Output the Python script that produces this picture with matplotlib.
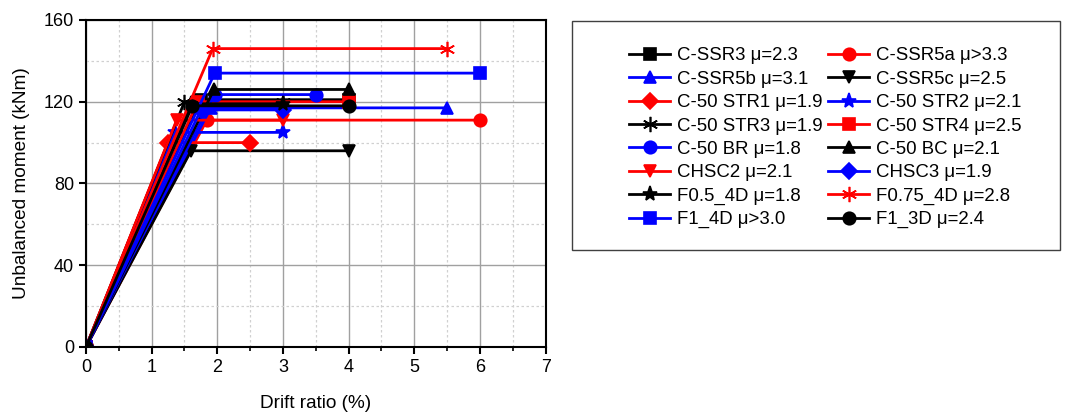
import numpy as np
import matplotlib
matplotlib.use('Agg')
from matplotlib import pyplot as plt
from matplotlib.patches import Rectangle
from matplotlib.ticker import MultipleLocator

plt.rcParams['font.family'] = ['Liberation Sans', 'DejaVu Sans']

# specimens: label, yield drift (%), moment (kNm), ultimate drift (%)
labels = ['C-SSR3 μ=2.3', 'C-SSR5a μ>3.3', 'C-SSR5b μ=3.1', 'C-SSR5c μ=2.5',
          'C-50 STR1 μ=1.9', 'C-50 STR2 μ=2.1', 'C-50 STR3 μ=1.9', 'C-50 STR4 μ=2.5',
          'C-50 BR μ=1.8', 'C-50 BC μ=2.1', 'CHSC2 μ=2.1', 'CHSC3 μ=1.9',
          'F0.5_4D μ=1.8', 'F0.75_4D μ=2.8', 'F1_4D μ>3.0', 'F1_3D μ=2.4']
yield_drift = [1.75, 1.84, 1.90, 1.60, 1.25, 1.35, 1.50, 1.70,
               1.96, 1.95, 1.38, 1.75, 1.60, 1.93, 1.96, 1.62]
moment = [121, 111, 117, 96, 100, 105, 120, 120,
          123.5, 126, 111, 116, 119, 146, 134, 118]
ult_drift = [4.0, 6.0, 5.5, 4.0, 2.5, 3.0, 3.0, 4.0,
             3.5, 4.0, 3.0, 3.0, 3.0, 5.5, 6.0, 4.0]

colors = ['k', 'r', 'b', 'k', 'r', 'b', 'k', 'r', 'b', 'k', 'r', 'b', 'k', 'r', 'b', 'k']
asterisk = (6, 2, 0)
markers = ['s', 'o', '^', 'v', 'D', '*', asterisk, 's', 'o', '^', 'v', 'D', '*', asterisk, 's', 'o']

fig = plt.figure(figsize=(10.67, 4.12), dpi=100)
ax = fig.add_axes([0.0806, 0.1578, 0.4308, 0.7937])

handles = []
for i in range(len(labels)):
    xs = [0, yield_drift[i], ult_drift[i]]
    ys = [0, moment[i], moment[i]]
    ms = 11 if markers[i] in ('*', asterisk) else 9
    if markers[i] == 'D':
        ms = 8
    h, = ax.plot(xs, ys, color=colors[i], marker=markers[i], markersize=ms,
                 lw=2, mew=1.2, label=labels[i])
    handles.append(h)

ax.set_xlim(0, 7)
ax.set_ylim(0, 160)
ax.xaxis.set_major_locator(MultipleLocator(1))
ax.xaxis.set_minor_locator(MultipleLocator(0.5))
ax.yaxis.set_major_locator(MultipleLocator(40))
ax.yaxis.set_minor_locator(MultipleLocator(20))
ax.grid(which='major', color='#a0a0a0', lw=1, ls='-')
ax.grid(which='minor', color='#d0d0d0', lw=0.9, ls=(0, (2, 2)))
ax.set_axisbelow(True)
ax.tick_params(which='major', direction='out', length=5, width=1.5, labelsize=13)
ax.tick_params(axis='x', which='minor', direction='out', length=3, width=1.2)
ax.tick_params(axis='y', which='minor', length=0)
for s in ax.spines.values():
    s.set_linewidth(1.5)
ax.set_xlabel('Drift ratio (%)', fontsize=13.7, labelpad=14)
ax.set_ylabel('Unbalanced moment (kNm)', fontsize=13.7, labelpad=10)

# legend box
fig.patches.append(Rectangle((572 / 1067, 1 - 250 / 412), (1060 - 572) / 1067, (250 - 21) / 412,
                             transform=fig.transFigure, fill=False, ec='#404040', lw=1))

# row-major ordering for two columns
order = list(range(0, 16, 2)) + list(range(1, 16, 2))
leg = fig.legend([handles[i] for i in order], [labels[i] for i in order],
                 ncol=2, loc='upper left', bbox_to_anchor=(622 / 1067, 1 - 40 / 412),
                 frameon=False, fontsize=13.4, handlelength=2.2, handletextpad=0.35,
                 columnspacing=0.3, labelspacing=0.34, borderaxespad=0)

fig.savefig('out.png', dpi=100)
